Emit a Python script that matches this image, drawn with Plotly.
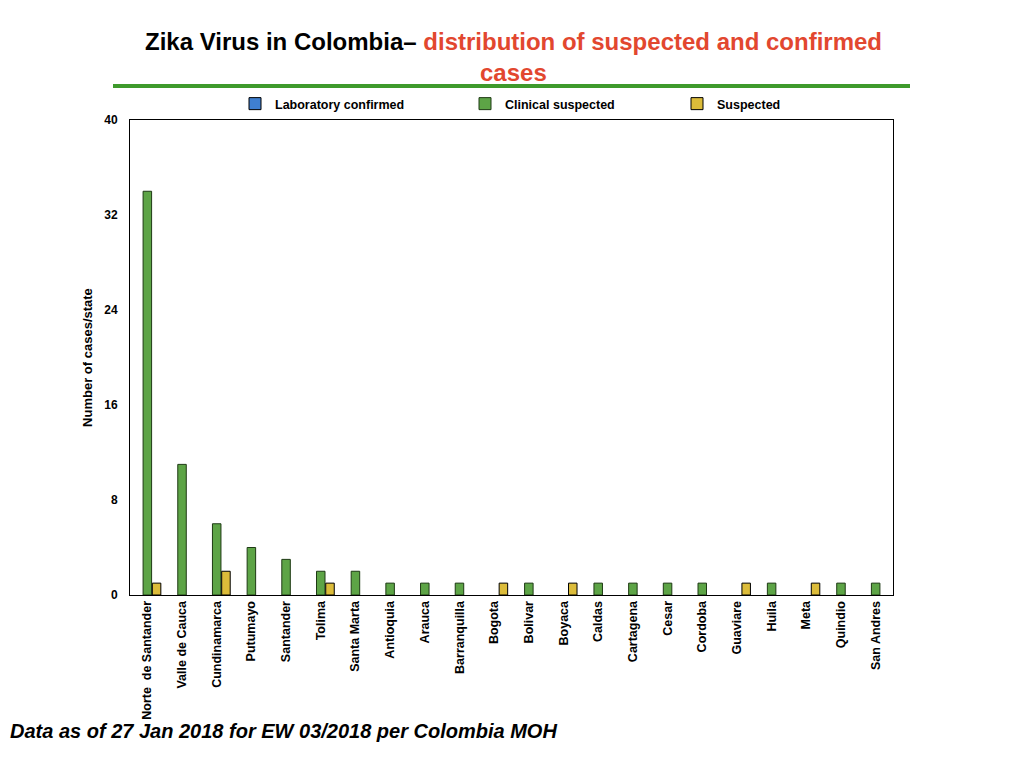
import plotly.graph_objects as go

categories = ["Norte  de Santander", "Valle de Cauca", "Cundinamarca", "Putumayo", "Santander",
              "Tolima", "Santa Marta", "Antioquia", "Arauca", "Barranquilla", "Bogota", "Bolivar",
              "Boyaca", "Caldas", "Cartagena", "Cesar", "Cordoba", "Guaviare", "Huila", "Meta",
              "Quindio", "San Andres"]
lab_confirmed = [0] * 22
clinical_suspected = [34, 11, 6, 4, 3, 2, 2, 1, 1, 1, 0, 1, 0, 1, 1, 1, 1, 0, 1, 0, 1, 1]
suspected = [1, 0, 2, 0, 0, 1, 0, 0, 0, 0, 1, 0, 1, 0, 0, 0, 0, 1, 0, 1, 0, 0]
y_ticks = [0, 8, 16, 24, 32, 40]

FONT = "Liberation Sans, Arial, sans-serif"
NARROW = "Liberation Sans Narrow, Arial Narrow, Liberation Sans, Arial, sans-serif"

# page offset (browser body margin) compensation
OX, OY = 8, 8
L, T, R, B = 130 - OX, 120 - OY, 893 - OX, 595 - OY
PW, PH = R - L, B - T


def px(xpage):
    return (xpage - OX - L) / PW


def py(ypage):
    return (B - (ypage - OY)) / PH


def lw(vals):
    return [1 if v > 0 else 0 for v in vals]


fig = go.Figure()
fig.add_trace(go.Bar(x=categories, y=lab_confirmed, name="<b>Laboratory confirmed</b>",
                     offsetgroup="lab", showlegend=False,
                     marker=dict(color="#3f7fd0", line=dict(color="black", width=lw(lab_confirmed)))))
fig.add_trace(go.Bar(x=[None], y=[None], name="<b>Laboratory confirmed</b>",
                     offsetgroup="lab", legend="legend",
                     marker=dict(color="#3f7fd0", line=dict(color="black", width=1))))
fig.add_trace(go.Bar(x=categories, y=clinical_suspected, name="<b>Clinical suspected</b>",
                     offsetgroup="clin", legend="legend2",
                     marker=dict(color="#5da446", line=dict(color="#1e3a14", width=lw(clinical_suspected)))))
fig.add_trace(go.Bar(x=categories, y=suspected, name="<b>Suspected</b>",
                     offsetgroup="susp", legend="legend3",
                     marker=dict(color="#dcbc3a", line=dict(color="black", width=lw(suspected)))))

leg_common = dict(orientation="h", yanchor="middle", xanchor="left",
                  font=dict(family=FONT, size=12.5, color="black"),
                  bgcolor="rgba(0,0,0,0)", itemwidth=30)

fig.update_layout(
    width=1024, height=768,
    paper_bgcolor="white", plot_bgcolor="white",
    margin=dict(l=L, r=1024 - R, t=T, b=768 - B),
    barmode="group", bargap=0.2, bargroupgap=0.08,
    showlegend=True,
    legend=dict(x=px(235), y=py(104), **leg_common),
    legend2=dict(x=px(465), y=py(104), **leg_common),
    legend3=dict(x=px(677), y=py(104), **leg_common),
    font=dict(family=FONT, color="black"),
    xaxis=dict(tickangle=-90, tickfont=dict(family=FONT, size=12.5, color="black"),
               showline=True, linecolor="black", linewidth=1, mirror=True,
               ticks="", showgrid=False, tickmode="array", tickvals=categories,
               ticktext=["<b>%s</b>" % c for c in categories]),
    yaxis=dict(range=[0, 40], tickvals=y_ticks, ticktext=["<b>%d</b>" % v for v in y_ticks],
               tickfont=dict(family=FONT, size=12, color="black"),
               showline=True, linecolor="black", linewidth=1, mirror=True,
               ticks="", showgrid=False, zeroline=False, ticklabelstandoff=9,
               title=dict(text="<b>Number of cases/state</b>", font=dict(family=FONT, size=13),
                          standoff=8)),
    shapes=[dict(type="line", xref="paper", yref="paper",
                 x0=px(113), x1=px(910), y0=py(86), y1=py(86),
                 line=dict(color="#3e9a2c", width=4))],
    annotations=[
        dict(text="<b>Zika Virus in Colombia– </b><b><span style='color:#e2472f'>distribution of suspected and confirmed</span></b>",
             xref="paper", yref="paper", x=px(513), y=py(41),
             xanchor="center", yanchor="middle", showarrow=False,
             font=dict(family=NARROW, size=24, color="black")),
        dict(text="<b>cases</b>", xref="paper", yref="paper",
             x=px(513), y=py(72),
             xanchor="center", yanchor="middle", showarrow=False,
             font=dict(family=NARROW, size=24, color="#e2472f")),
        dict(text="<b><i>Data as of 27 Jan 2018 for EW 03/2018 per Colombia MOH</i></b>",
             xref="paper", yref="paper", x=px(8), y=py(731),
             xanchor="left", yanchor="middle", showarrow=False,
             font=dict(family=FONT, size=20, color="black")),
    ],
)

fig.write_html("out.html")
